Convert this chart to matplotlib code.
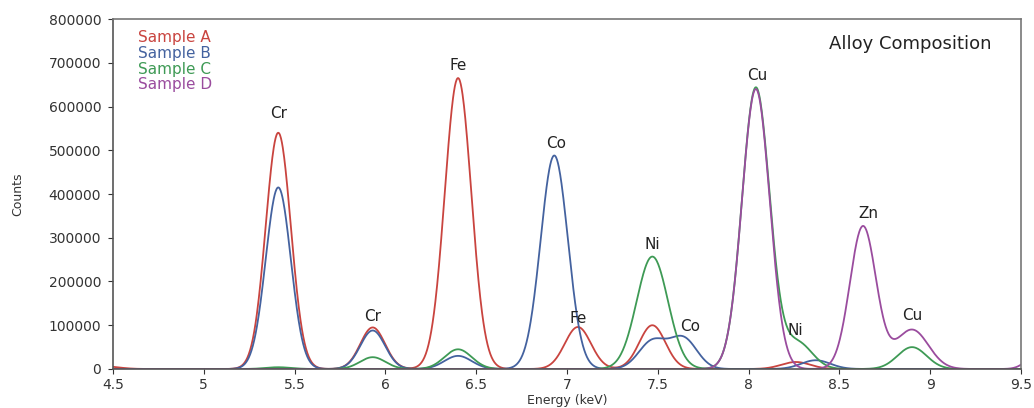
import matplotlib
matplotlib.use("Agg")
import matplotlib.pyplot as plt
import numpy as np

plt.rcParams["font.family"] = ["DejaVu Sans"]

# ── data: peak tables (centre keV, height counts, sigma keV)
samples = ["Sample A", "Sample B", "Sample C", "Sample D"]
colors  = ["#c9443f", "#44629f", "#3e9a55", "#9a4c9e"]

a_centers = [4.45, 5.41, 5.93, 6.40, 7.06, 7.47, 8.26]
a_heights = [6000, 540000, 95000, 665000, 96000, 100000, 16000]
a_sigmas  = [0.08, 0.069, 0.068, 0.073, 0.072, 0.072, 0.08]

b_centers = [5.41, 5.93, 6.40, 6.93, 7.47, 7.64, 8.37]
b_heights = [415000, 88000, 30000, 488000, 63000, 70000, 20000]
b_sigmas  = [0.069, 0.068, 0.075, 0.075, 0.075, 0.075, 0.08]

c_centers = [5.41, 5.93, 6.40, 7.47, 8.04, 8.27, 8.90]
c_heights = [4000, 27000, 45000, 257000, 643000, 60000, 50000]
c_sigmas  = [0.07, 0.07, 0.075, 0.086, 0.076, 0.08, 0.08]

d_centers = [8.04, 8.63, 8.90, 9.60]
d_heights = [640000, 326000, 90000, 40000]
d_sigmas  = [0.076, 0.072, 0.09, 0.06]

peak_tables = [
    (a_centers, a_heights, a_sigmas),
    (b_centers, b_heights, b_sigmas),
    (c_centers, c_heights, c_sigmas),
    (d_centers, d_heights, d_sigmas),
]

label_names  = ["Cr", "Fe", "Co", "Ni", "Cu", "Zn", "Cr", "Fe", "Co", "Ni", "Cu"]
label_energy = [5.41, 6.40, 6.94, 7.47, 8.05, 8.66, 5.93, 7.06, 7.68, 8.26, 8.90]
label_counts = [583000, 693000, 515000, 285000, 670000, 356000,
                121000, 116000, 96000, 89000, 123000]


def spectrum(energy, centers, heights, sigmas):
    out = np.zeros_like(energy)
    for c, h, s in zip(centers, heights, sigmas):
        out += h * np.exp(-0.5 * ((energy - c) / s) ** 2)
    return out


# ── figure
fig = plt.figure(figsize=(10.34, 4.08), dpi=100)
ax = fig.add_axes([0.1093, 0.0956, 0.8781, 0.8578])

energy = np.linspace(4.5, 9.5, 2001)
for (cen, hgt, sig), name, col in zip(peak_tables, samples, colors):
    ax.plot(energy, spectrum(energy, cen, hgt, sig), color=col, lw=1.3, label=name)

for name, e, c in zip(label_names, label_energy, label_counts):
    ax.text(e, c, name, ha="center", va="center", fontsize=11, color="#222222")

# text-only legend, coloured labels
for i, (name, col) in enumerate(zip(samples, colors)):
    ax.text(0.027, 0.947 - i * 0.045, name, transform=ax.transAxes,
            ha="left", va="center", fontsize=11, color=col)

ax.text(0.968, 0.93, "Alloy Composition", transform=ax.transAxes,
        ha="right", va="center", fontsize=13, color="#222222")

ax.set_xlim(4.5, 9.5)
ax.set_ylim(0, 800000)
ax.set_xticks([4.5, 5, 5.5, 6, 6.5, 7, 7.5, 8, 8.5, 9, 9.5])
ax.set_xticklabels(["4.5", "5", "5.5", "6", "6.5", "7", "7.5", "8", "8.5", "9", "9.5"])
ax.set_yticks(np.arange(0, 800001, 100000))
ax.set_yticklabels([str(v) for v in range(0, 800001, 100000)])
ax.tick_params(axis="both", labelsize=10, colors="#333333", length=3.5, width=0.8,
               direction="out")
ax.tick_params(axis="x", pad=3)
ax.tick_params(axis="y", pad=5)
ax.set_xlabel("Energy (keV)", fontsize=9, color="#333333", va="center")
ax.xaxis.set_label_coords(0.5, -0.09)
ax.set_ylabel("Counts", fontsize=9, color="#333333", va="center")
ax.yaxis.set_label_coords(-0.105, 0.5)

for side in ["left", "bottom"]:
    ax.spines[side].set_color("#555555")
    ax.spines[side].set_linewidth(1.2)
for side in ["top", "right"]:
    ax.spines[side].set_color("#777777")
    ax.spines[side].set_linewidth(1.2)

fig.savefig("out.png", dpi=100)
